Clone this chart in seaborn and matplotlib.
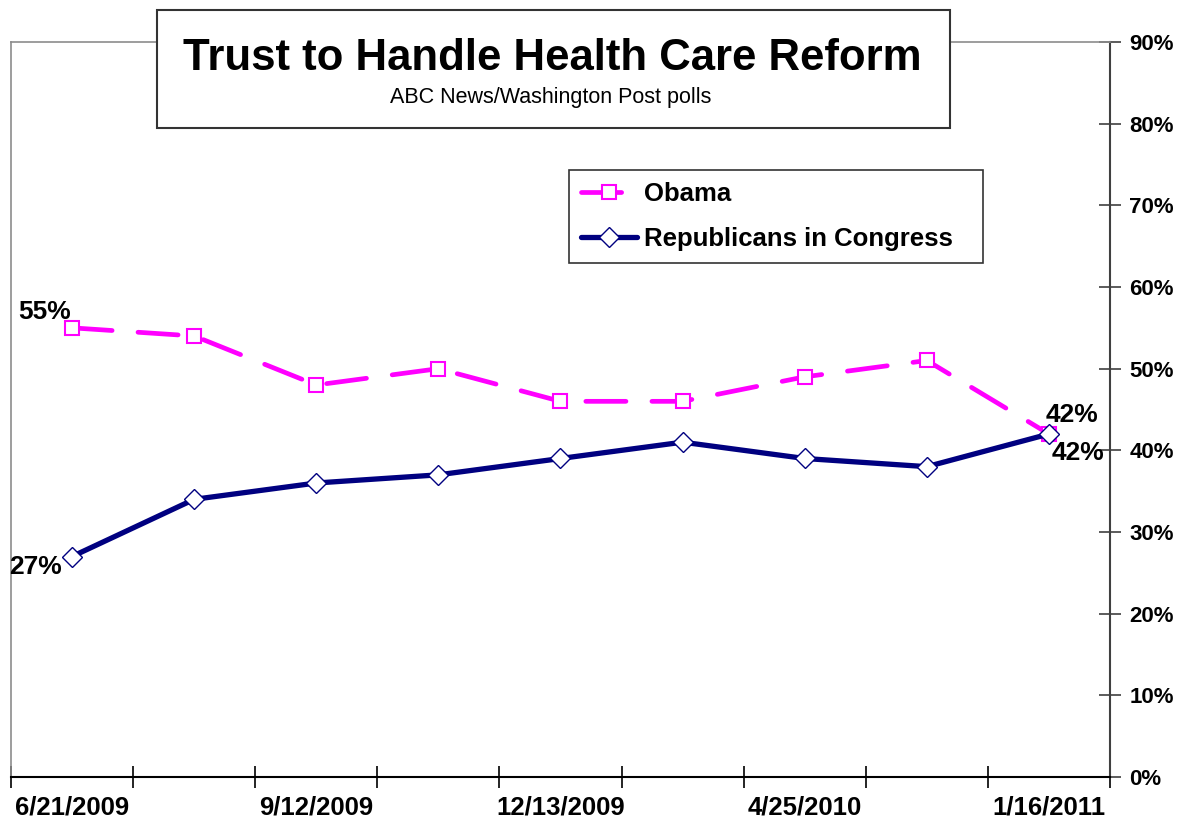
import numpy as np
import pandas as pd
import matplotlib
matplotlib.use("Agg")
import matplotlib.pyplot as plt
from matplotlib.patches import Rectangle
from matplotlib.ticker import FixedLocator, NullFormatter, FixedFormatter
import seaborn as sns

# ---- data ----
dates = ["6/21/2009", "7/18/2009", "9/12/2009", "10/18/2009", "12/13/2009",
         "2/8/2010", "4/25/2010", "10/3/2010", "1/16/2011"]
obama = [55, 54, 48, 50, 46, 46, 49, 51, 42]
republicans = [27, 34, 36, 37, 39, 41, 39, 38, 42]
series_names = ["Obama", "Republicans in Congress"]
y_ticks = [0, 10, 20, 30, 40, 50, 60, 70, 80, 90]
shown_labels = ["6/21/2009", "9/12/2009", "12/13/2009", "4/25/2010", "1/16/2011"]
title = "Trust to Handle Health Care Reform"
subtitle = "ABC News/Washington Post polls"

sns.set_theme(style="white")
plt.rcParams["font.family"] = ["Liberation Sans", "DejaVu Sans"]
plt.rcParams["text.color"] = "black"
plt.rcParams["xtick.color"] = "black"
plt.rcParams["ytick.color"] = "black"
plt.rcParams["xtick.labelcolor"] = "black"
plt.rcParams["ytick.labelcolor"] = "black"

W, H = 1186, 822
fig = plt.figure(figsize=(W / 100, H / 100), dpi=100)
ax = fig.add_axes([11 / W, (H - 777) / H, (1110 - 11) / W, (777 - 42) / H])

pos = np.arange(len(dates))
df = pd.DataFrame({"pos": pos, "date": dates, "Obama": obama,
                   "Republicans": republicans})

magenta = "#FF00FF"
navy = "#000080"

sns.lineplot(data=df, x="pos", y="Obama", ax=ax, color=magenta, lw=3.4,
             marker="s", markersize=10, mfc="white", mec=magenta, mew=1.5,
             dash_capstyle="round", label=series_names[0],
             legend=False, zorder=3)
sns.lineplot(data=df, x="pos", y="Republicans", ax=ax, color=navy, lw=3.8,
             marker="D", markersize=10.5, mfc="white", mec=navy, mew=1.0,
             label=series_names[1], legend=False, zorder=4)
ax.lines[0].set_dashes((8.5, 5.5))

ax.set_xlim(-0.5, len(dates) - 0.5)
ax.set_ylim(0, 90)

# x axis: tick marks at category boundaries, labels on every other category
ax.xaxis.set_major_locator(FixedLocator(np.arange(-0.5, len(dates), 1.0)))
ax.xaxis.set_major_formatter(NullFormatter())
label_pos = [dates.index(d) for d in shown_labels]
ax.xaxis.set_minor_locator(FixedLocator(label_pos))
ax.xaxis.set_minor_formatter(FixedFormatter(shown_labels))
ax.tick_params(axis="x", which="major", direction="inout", length=16, width=1.2,
               color="black", bottom=True)
ax.tick_params(axis="x", which="minor", length=0, pad=13, labelsize=18.5,
               bottom=True, labelcolor="black")
for t in ax.xaxis.get_minorticklabels():
    t.set_fontweight("bold")

# y axis on right
ax.yaxis.tick_right()
ax.set_yticks(y_ticks)
ax.set_yticklabels([f"{v}%" for v in y_ticks])
ax.tick_params(axis="y", which="major", direction="inout", length=16, width=1.2,
               color="#404040", right=True, left=False, pad=6, labelsize=16,
               labelcolor="black")
for t in ax.get_yticklabels():
    t.set_fontweight("bold")

ax.set_xlabel("")
ax.set_ylabel("")
ax.grid(False)

for s in ["top", "left"]:
    ax.spines[s].set_color("#8c8c8c")
    ax.spines[s].set_linewidth(1.2)
ax.spines["right"].set_color("#404040")
ax.spines["right"].set_linewidth(1.5)
ax.spines["bottom"].set_color("black")
ax.spines["bottom"].set_linewidth(1.5)

# data labels
lab_kw = dict(fontsize=19, fontweight="bold", color="black",
              textcoords="offset points")
ax.annotate(f"{obama[0]}%", (pos[0], obama[0]), xytext=(-19.5, 11.5),
            ha="center", va="center", **lab_kw)
ax.annotate(f"{republicans[0]}%", (pos[0], republicans[0]), xytext=(-26.5, -7.5),
            ha="center", va="center", **lab_kw)
ax.annotate(f"{republicans[-1]}%", (pos[-1], republicans[-1]), xytext=(16.5, 13.5),
            ha="center", va="center", **lab_kw)
ax.annotate(f"{obama[-1]}%", (pos[-1], obama[-1]), xytext=(21, -14),
            ha="center", va="center", **lab_kw)

# legend
handles = ax.lines[:2]
leg = fig.legend(handles, series_names, loc="upper left",
                 bbox_to_anchor=(569 / W, 1 - 170 / H - 0.01, (983 - 569) / W, 0.01),
                 bbox_transform=fig.transFigure, mode="expand", borderaxespad=0,
                 frameon=True, fancybox=False, shadow=False,
                 prop={"size": 18.5, "weight": "bold"},
                 handlelength=2.2, handletextpad=0.25, labelspacing=0.85,
                 borderpad=0.45)
leg.get_frame().set_edgecolor("black")
leg.get_frame().set_linewidth(1.2)
for t in leg.get_texts():
    t.set_color("black")

# title box
fig.patches.append(Rectangle((157 / W, 1 - 128 / H), (950 - 157) / W, (128 - 10) / H,
                             transform=fig.transFigure, facecolor="white",
                             edgecolor="#333333", linewidth=1.5, zorder=10))
fig.text(552 / W, 1 - 58 / H, title, ha="center", va="center", fontsize=31.5,
         fontweight="bold", color="black", zorder=11)
fig.text(551 / W, 1 - 97 / H, subtitle, ha="center", va="center", fontsize=15.5,
         color="black", zorder=11)

fig.savefig("out.png", dpi=100, facecolor="white")
